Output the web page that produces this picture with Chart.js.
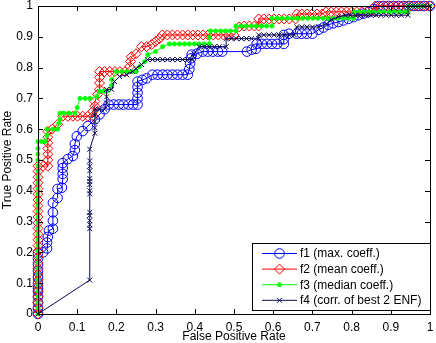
<!DOCTYPE html>
<html><head><meta charset="utf-8">
<script src="https://cdn.jsdelivr.net/npm/chart.js@4.4.1/dist/chart.umd.min.js"></script>
<style>html,body{margin:0;padding:0;background:#fff;}canvas{display:block;}</style>
</head><body>
<canvas id="c" width="436" height="343"></canvas>
<script>
const seriesNames = ['f1 (max. coeff.)', 'f2 (mean coeff.)', 'f3 (median coeff.)', 'f4 (corr. of best 2 ENF)'];
const tickLabels = ['0','0.1','0.2','0.3','0.4','0.5','0.6','0.7','0.8','0.9','1'];
const xTitle = 'False Positive Rate';
const yTitle = 'True Positive Rate';

// [FPR, TPR] pairs
const f1Points = [[0,0],[0,.019],[0,.037],[0,.056],[0,.074],[0,.084],[0,.1],[0,.12],[0,.14],[0,.16],[0,.18],[0,.197],
[.013,.2],[.023,.213],[.023,.232],[.025,.25],[.028,.271],[.038,.277],[.038,.303],[.038,.33],[.038,.361],[.05,.377],[.05,.406],[.061,.41],[.063,.438],[.063,.455],[.063,.474],[.063,.49],[.076,.503],[.089,.513],[.094,.532],[.094,.552],[.099,.577],[.114,.594],[.127,.61],[.145,.632],[.157,.648],[.17,.665],[.18,.68],[.193,.68],[.206,.68],[.218,.68],[.231,.68],[.243,.68],[.254,.68],[.254,.7],[.254,.718],[.254,.737],[.254,.755],[.266,.76],[.277,.765],[.292,.777],[.305,.777],[.318,.777],[.33,.777],[.343,.777],[.356,.777],[.369,.777],[.382,.777],[.386,.795],[.388,.813],[.39,.83],[.392,.842],[.406,.845],[.42,.852],[.433,.852],[.446,.852],[.459,.852],[.47,.852],[.533,.852],[.545,.858],[.556,.861],[.558,.877],[.571,.877],[.584,.877],[.597,.877],[.61,.877],[.627,.877],[.627,.892],[.627,.906],[.64,.91],[.66,.91],[.673,.91],[.686,.91],[.7,.91],[.716,.923],[.728,.93],[.74,.939],[.753,.944],[.766,.948],[.779,.953],[.792,.958],[.805,.964],[.817,.97],[.83,.975],[.843,.98],[.856,.99],[.868,1],[.881,1],[.894,1],[.907,1],[.92,1],[.933,1],[.946,1],[.959,1],[.972,1],[.985,1],[1,1]];

const f2Points = [[0,0],[0,.019],[0,.037],[0,.056],[0,.074],[0,.093],[0,.111],[0,.13],[0,.148],[0,.167],[0,.185],[0,.204],[0,.222],[0,.241],[0,.259],[0,.278],[0,.296],[0,.315],[0,.333],[0,.352],[0,.37],[0,.389],[0,.407],[0,.426],[0,.444],[0,.463],[0,.48],
[.013,.48],[.025,.48],[.025,.5],[.025,.519],[.025,.537],[.025,.556],[.025,.574],[.025,.593],[.036,.6],[.05,.616],[.063,.642],[.076,.642],[.089,.642],[.101,.642],[.114,.642],[.127,.642],[.14,.642],[.14,.658],[.145,.675],[.145,.69],[.152,.713],[.157,.73],[.157,.75],[.157,.768],[.157,.787],[.17,.787],[.183,.787],[.196,.787],[.209,.787],[.222,.787],[.234,.803],[.236,.82],[.238,.835],[.25,.845],[.264,.868],[.277,.868],[.29,.875],[.3,.885],[.31,.894],[.317,.906],[.33,.906],[.343,.906],[.356,.906],[.369,.906],[.382,.906],[.395,.906],[.408,.906],[.421,.906],[.434,.906],[.447,.906],[.46,.906],[.473,.906],[.486,.906],[.5,.906],[.513,.932],[.526,.935],[.539,.935],[.552,.935],[.563,.935],[.563,.958],[.576,.958],[.589,.958],[.602,.958],[.615,.958],[.628,.958],[.641,.958],[.657,.958],[.66,.974],[.673,.974],[.686,.974],[.699,.974],[.712,.974],[.725,.974],[.735,.981],[.748,.981],[.761,.981],[.774,.981],[.787,.981],[.8,.981],[.813,.981],[.826,.981],[.839,.981],[.86,.981],[.86,1],[.873,1],[.886,1],[.899,1],[.912,1],[.925,1],[.938,1],[.951,1],[.964,1],[.977,1],[.99,1],[1,1]];

const f3Points = [[0,0],[0,.019],[0,.037],[0,.056],[0,.074],[0,.093],[0,.111],[0,.13],[0,.148],[0,.167],[0,.185],[0,.204],[0,.222],[0,.241],[0,.259],[0,.278],[0,.296],[0,.315],[0,.333],[0,.352],[0,.37],[0,.389],[0,.407],[0,.426],[0,.444],[0,.463],[0,.481],[0,.5],[0,.519],[0,.537],[0,.56],
[.009,.56],[.018,.56],[.023,.58],[.023,.6],[.038,.6],[.05,.6],[.053,.619],[.056,.632],[.056,.652],[.066,.652],[.079,.652],[.094,.652],[.1,.67],[.107,.7],[.12,.7],[.132,.7],[.15,.706],[.157,.723],[.168,.723],[.175,.723],[.188,.742],[.188,.761],[.2,.787],[.213,.787],[.226,.787],[.239,.787],[.25,.787],[.259,.803],[.272,.819],[.28,.842],[.3,.852],[.318,.868],[.335,.877],[.348,.877],[.361,.877],[.374,.877],[.386,.877],[.399,.877],[.411,.877],[.424,.877],[.437,.877],[.437,.898],[.44,.919],[.453,.919],[.466,.919],[.478,.919],[.491,.919],[.505,.919],[.505,.935],[.518,.935],[.531,.935],[.544,.935],[.557,.935],[.57,.935],[.583,.935],[.597,.935],[.597,.96],[.61,.96],[.623,.96],[.636,.96],[.649,.96],[.662,.96],[.675,.96],[.688,.96],[.701,.96],[.714,.96],[.727,.96],[.74,.96],[.753,.96],[.766,.96],[.779,.96],[.792,.96],[.805,.96],[.805,.981],[.818,.981],[.831,.981],[.844,.981],[.857,.981],[.87,.981],[.883,.981],[.896,.981],[.909,.981],[.922,.981],[.935,.981],[.944,.981],[.944,1],[.957,1],[.97,1],[.983,1],[1,1]];

const f4Points = [[0,0],[.132,.11],[.132,.277],[.132,.29],[.132,.303],[.132,.32],[.132,.33],[.132,.39],[.132,.4],[.132,.42],[.132,.43],[.132,.44],[.132,.465],[.132,.48],[.132,.497],[.132,.535],[.145,.587],[.145,.605],[.145,.625],[.145,.645],[.145,.665],[.157,.665],[.17,.665],[.175,.685],[.175,.705],[.175,.729],[.188,.729],[.195,.755],[.208,.771],[.226,.777],[.241,.787],[.25,.797],[.264,.81],[.279,.826],[.292,.826],[.305,.826],[.318,.826],[.33,.826],[.343,.826],[.356,.826],[.369,.826],[.382,.826],[.393,.826],[.398,.845],[.411,.868],[.424,.868],[.437,.868],[.45,.868],[.463,.868],[.48,.868],[.48,.894],[.493,.894],[.506,.894],[.519,.894],[.532,.894],[.545,.894],[.563,.894],[.563,.906],[.576,.906],[.589,.906],[.602,.906],[.615,.906],[.628,.906],[.641,.906],[.654,.906],[.66,.932],[.673,.932],[.686,.932],[.7,.932],[.716,.932],[.736,.942],[.749,.955],[.766,.965],[.784,.97],[.797,.97],[.81,.97],[.823,.97],[.836,.97],[.849,.97],[.862,.97],[.875,.97],[.888,.97],[.901,.97],[.914,.97],[.927,.97],[.944,.97],[.944,1],[.957,1],[.97,1],[.983,1],[1,1]];

const FONT = "'Liberation Sans', Arial, Helvetica, sans-serif";
const styles = [
  {color:'#0000ff', pointStyle:'circle',   radius:4.8, fill:'rgba(0,0,0,0)'},
  {color:'#ff0000', pointStyle:'rectRot',  radius:5,   fill:'rgba(0,0,0,0)'},
  {color:'#00ff00', pointStyle:'circle',   radius:2,   fill:'#00ff00'},
  {color:'#0b0b55', pointStyle:'crossRot', radius:3.5, fill:'#0b0b55'}
];
const allPoints = [f1Points, f2Points, f3Points, f4Points];

const datasets = allPoints.map((pts, i) => ({
  label: seriesNames[i],
  data: pts.map(p => ({x: p[0], y: p[1]})),
  showLine: true,
  borderColor: styles[i].color,
  borderWidth: 1,
  backgroundColor: styles[i].fill,
  pointStyle: styles[i].pointStyle,
  pointRadius: styles[i].radius,
  pointHoverRadius: styles[i].radius,
  pointBorderColor: styles[i].color,
  pointBackgroundColor: styles[i].fill,
  pointBorderWidth: 1,
  order: 4 - i,
  clip: 12,
  tension: 0,
  fill: false
}));

const tickValues = tickLabels.map(Number);

const bgPlugin = {
  id: 'bg',
  beforeDraw(chart) {
    const ctx = chart.ctx;
    ctx.save(); ctx.fillStyle = '#fff'; ctx.fillRect(0, 0, chart.width, chart.height); ctx.restore();
  }
};

const boxPlugin = {
  id: 'box',
  afterDatasetsDraw(chart) {
    const {ctx, chartArea: a, scales: {x, y}} = chart;
    ctx.save();
    ctx.strokeStyle = '#000';
    ctx.lineWidth = 1;
    const L = 5;
    ctx.beginPath();
    tickValues.forEach(v => {
      const px = Math.round(x.getPixelForValue(v)) + 0.5;
      ctx.moveTo(px, a.bottom); ctx.lineTo(px, a.bottom - L);
      ctx.moveTo(px, a.top); ctx.lineTo(px, a.top + L);
      const py = Math.round(y.getPixelForValue(v)) + 0.5;
      ctx.moveTo(a.left, py); ctx.lineTo(a.left + L, py);
      ctx.moveTo(a.right, py); ctx.lineTo(a.right - L, py);
    });
    ctx.stroke();
    ctx.strokeRect(a.left + 0.5, a.top + 0.5, a.right - a.left, a.bottom - a.top);
    ctx.restore();
  }
};

const legendPlugin = {
  id: 'customLegend',
  afterDraw(chart) {
    const ctx = chart.ctx;
    const bx = 252.5, by = 243.5, bw = 178, bh = 67;
    ctx.save();
    ctx.fillStyle = '#fff';
    ctx.fillRect(bx, by, bw, bh);
    ctx.strokeStyle = '#000';
    ctx.lineWidth = 1;
    ctx.strokeRect(bx, by, bw, bh);
    seriesNames.forEach((name, i) => {
      const yy = 253.5 + i * 15.6;
      const s = styles[i];
      ctx.strokeStyle = s.color;
      ctx.lineWidth = 1;
      ctx.beginPath(); ctx.moveTo(262, yy); ctx.lineTo(297, yy); ctx.stroke();
      ctx.fillStyle = s.fill;
      Chart.helpers.drawPoint(ctx, {pointStyle: s.pointStyle, rotation: 0, radius: s.radius, borderWidth: 1}, 279.5, yy);
      ctx.fillStyle = '#000';
      ctx.font = '12px ' + FONT;
      ctx.textBaseline = 'middle';
      ctx.textAlign = 'left';
      ctx.fillText(name, 300, yy + 0.5);
    });
    ctx.restore();
  }
};

new Chart(document.getElementById('c'), {
  type: 'scatter',
  data: { datasets },
  options: {
    responsive: false,
    animation: false,
    devicePixelRatio: 1,
    layout: { padding: { left: 0, right: 4, top: 4, bottom: 0 } },
    plugins: { legend: { display: false }, tooltip: { enabled: false } },
    scales: {
      x: {
        type: 'linear', min: 0, max: 1,
        grid: { display: false, drawTicks: false },
        border: { display: false },
        ticks: { stepSize: 0.1, autoSkip: false, maxRotation: 0, padding: 6, color: '#000',
                 font: { family: FONT, size: 12 },
                 callback: v => tickLabels[Math.round(v * 10)] },
        title: { display: true, text: xTitle, color: '#000', font: { family: FONT, size: 12, lineHeight: 1 }, padding: { top: 0, bottom: 0 } },
        afterFit(s) { s.height = 29; s.paddingLeft = 0; s.paddingRight = 0; }
      },
      y: {
        type: 'linear', min: 0, max: 1,
        grid: { display: false, drawTicks: false },
        border: { display: false },
        ticks: { stepSize: 0.1, autoSkip: false, padding: 5, color: '#000',
                 font: { family: FONT, size: 12 },
                 callback: v => tickLabels[Math.round(v * 10)] },
        title: { display: true, text: yTitle, color: '#000', font: { family: FONT, size: 12 }, padding: { top: 0, bottom: 0 } },
        afterFit(s) { s.width = 38; s.paddingTop = 0; s.paddingBottom = 0; }
      }
    }
  },
  plugins: [bgPlugin, boxPlugin, legendPlugin]
});
</script>
</body></html>
